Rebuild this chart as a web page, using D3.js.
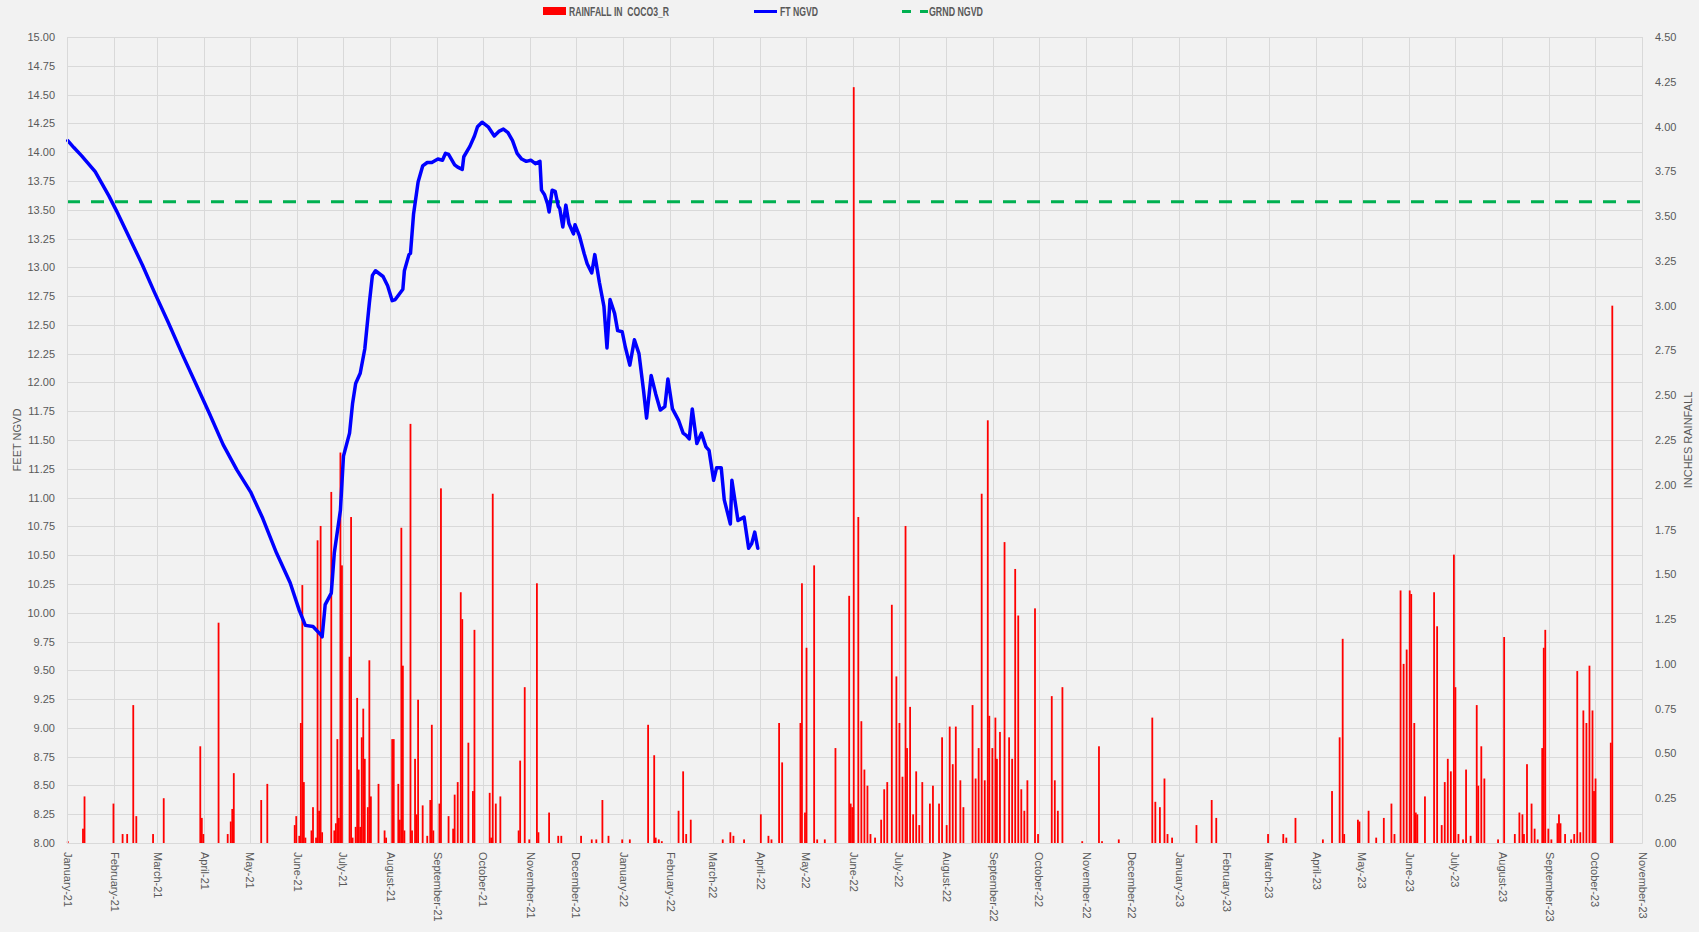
<!DOCTYPE html>
<html>
<head>
<meta charset="utf-8">
<script src="https://cdn.jsdelivr.net/npm/d3@7"></script>
<style>
body { margin: 0; background: #f2f2f2; }
svg text { font-family: "Liberation Sans", Arial, sans-serif; fill: #595959; }
</style>
</head>
<body>
<script>
var w = 1699;
var h = 932;
var plotLeft = 67, plotRight = 1642, plotTop = 37, plotBottom = 843;

// water level (ft NGVD)
var levelSeries = [
  ["2021-01-01",14.10],["2021-01-05",14.04],["2021-01-10",13.97],["2021-01-19",13.83],["2021-01-28",13.62],
  ["2021-02-02",13.49],["2021-02-10",13.27],["2021-02-19",13.02],["2021-02-27",12.78],["2021-03-08",12.52],
  ["2021-03-17",12.25],["2021-03-26",11.99],["2021-04-04",11.73],["2021-04-13",11.46],["2021-04-22",11.24],
  ["2021-05-01",11.05],["2021-05-09",10.82],["2021-05-18",10.52],["2021-05-27",10.26],["2021-06-02",10.02],
  ["2021-06-06",9.89],["2021-06-11",9.88],["2021-06-16",9.81],["2021-06-17",9.79],["2021-06-19",10.07],
  ["2021-06-23",10.17],["2021-06-25",10.52],["2021-06-29",10.89],["2021-07-01",11.36],["2021-07-05",11.56],
  ["2021-07-07",11.82],["2021-07-09",11.99],["2021-07-12",12.08],["2021-07-15",12.29],["2021-07-18",12.69],
  ["2021-07-20",12.93],["2021-07-22",12.97],["2021-07-27",12.92],["2021-07-30",12.84],["2021-08-02",12.71],
  ["2021-08-04",12.72],["2021-08-09",12.81],["2021-08-10",12.97],["2021-08-13",13.11],["2021-08-14",13.12],
  ["2021-08-16",13.46],["2021-08-19",13.74],["2021-08-22",13.88],["2021-08-25",13.91],["2021-08-28",13.91],
  ["2021-09-01",13.94],["2021-09-04",13.93],["2021-09-06",13.99],["2021-09-08",13.98],["2021-09-12",13.89],
  ["2021-09-14",13.87],["2021-09-17",13.85],["2021-09-18",13.96],["2021-09-22",14.05],["2021-09-25",14.14],
  ["2021-09-27",14.22],["2021-09-30",14.26],["2021-10-04",14.22],["2021-10-08",14.14],["2021-10-11",14.18],
  ["2021-10-14",14.20],["2021-10-17",14.17],["2021-10-20",14.10],["2021-10-23",13.99],["2021-10-26",13.94],
  ["2021-10-29",13.92],["2021-11-01",13.93],["2021-11-04",13.90],["2021-11-07",13.92],["2021-11-08",13.67],
  ["2021-11-10",13.63],["2021-11-12",13.55],["2021-11-13",13.48],["2021-11-15",13.67],["2021-11-17",13.66],
  ["2021-11-19",13.53],["2021-11-20",13.51],["2021-11-22",13.35],["2021-11-24",13.54],["2021-11-26",13.38],
  ["2021-11-29",13.29],["2021-11-30",13.37],["2021-12-03",13.27],["2021-12-06",13.12],["2021-12-08",13.03],
  ["2021-12-11",12.95],["2021-12-13",13.11],["2021-12-16",12.87],["2021-12-19",12.66],["2021-12-21",12.30],
  ["2021-12-23",12.72],["2021-12-26",12.60],["2021-12-28",12.45],["2021-12-31",12.44],["2022-01-02",12.31],
  ["2022-01-05",12.15],["2022-01-08",12.37],["2022-01-11",12.25],["2022-01-14",11.93],["2022-01-16",11.69],
  ["2022-01-19",12.06],["2022-01-22",11.90],["2022-01-25",11.76],["2022-01-28",11.79],["2022-01-30",12.03],
  ["2022-02-02",11.77],["2022-02-06",11.67],["2022-02-09",11.56],["2022-02-11",11.54],["2022-02-13",11.51],
  ["2022-02-15",11.77],["2022-02-18",11.47],["2022-02-21",11.56],["2022-02-24",11.44],["2022-02-26",11.41],
  ["2022-03-01",11.15],["2022-03-03",11.26],["2022-03-06",11.26],["2022-03-08",10.98],["2022-03-12",10.77],
  ["2022-03-13",11.15],["2022-03-17",10.80],["2022-03-21",10.83],["2022-03-24",10.56],["2022-03-26",10.60],
  ["2022-03-28",10.70],["2022-03-30",10.56]
];

// daily rainfall (inches), only the days with rain
var rainSeries = [
  ["2021-01-01",0.01],["2021-01-11",0.08],["2021-01-12",0.26],["2021-01-31",0.22],["2021-02-06",0.05],
  ["2021-02-09",0.05],["2021-02-13",0.77],["2021-02-15",0.15],["2021-02-26",0.05],["2021-03-05",0.25],
  ["2021-03-29",0.54],["2021-03-30",0.14],["2021-03-31",0.05],["2021-04-10",1.23],["2021-04-16",0.05],
  ["2021-04-18",0.12],["2021-04-19",0.19],["2021-04-20",0.39],["2021-05-08",0.24],["2021-05-12",0.33],
  ["2021-05-30",0.10],["2021-05-31",0.15],["2021-06-02",0.04],["2021-06-03",0.67],["2021-06-04",1.44],
  ["2021-06-05",0.34],["2021-06-06",0.03],["2021-06-10",0.07],["2021-06-11",0.20],["2021-06-13",0.03],
  ["2021-06-14",1.69],["2021-06-15",0.18],["2021-06-16",1.77],["2021-06-17",0.06],["2021-06-23",1.96],
  ["2021-06-25",0.07],["2021-06-26",0.11],["2021-06-27",0.58],["2021-06-28",0.14],["2021-06-29",2.18],
  ["2021-06-30",1.55],["2021-07-05",1.04],["2021-07-06",1.82],["2021-07-07",0.03],["2021-07-09",0.09],
  ["2021-07-10",0.81],["2021-07-11",0.41],["2021-07-12",0.09],["2021-07-13",0.59],["2021-07-14",0.75],
  ["2021-07-15",0.47],["2021-07-17",0.20],["2021-07-18",1.02],["2021-07-19",0.26],["2021-07-24",0.33],
  ["2021-07-28",0.07],["2021-07-29",0.03],["2021-08-02",0.58],["2021-08-03",0.58],["2021-08-06",0.33],
  ["2021-08-07",0.13],["2021-08-08",1.76],["2021-08-09",0.99],["2021-08-10",0.07],["2021-08-14",2.34],
  ["2021-08-15",0.07],["2021-08-17",0.47],["2021-08-18",0.16],["2021-08-19",0.80],["2021-08-22",0.21],
  ["2021-08-25",0.04],["2021-08-27",0.24],["2021-08-28",0.66],["2021-08-29",0.07],["2021-09-02",0.22],
  ["2021-09-03",1.98],["2021-09-08",0.15],["2021-09-11",0.08],["2021-09-12",0.27],["2021-09-14",0.34],
  ["2021-09-16",1.40],["2021-09-17",1.25],["2021-09-21",0.56],["2021-09-24",0.29],["2021-09-25",1.19],
  ["2021-10-05",0.28],["2021-10-06",0.03],["2021-10-07",1.95],["2021-10-09",0.22],["2021-10-12",0.26],
  ["2021-10-24",0.07],["2021-10-25",0.46],["2021-10-28",0.87],["2021-10-31",0.02],["2021-11-05",1.45],
  ["2021-11-06",0.06],["2021-11-13",0.17],["2021-11-19",0.04],["2021-11-21",0.04],["2021-12-04",0.04],
  ["2021-12-11",0.02],["2021-12-14",0.02],["2021-12-18",0.24],["2021-12-22",0.04],["2021-12-31",0.02],
  ["2022-01-05",0.02],["2022-01-17",0.66],["2022-01-21",0.49],["2022-01-22",0.03],["2022-01-24",0.02],
  ["2022-01-26",0.01],["2022-02-06",0.18],["2022-02-09",0.40],["2022-02-11",0.05],["2022-02-14",0.13],
  ["2022-03-07",0.02],["2022-03-12",0.06],["2022-03-14",0.04],["2022-03-21",0.02],["2022-04-01",0.16],
  ["2022-04-06",0.04],["2022-04-08",0.02],["2022-04-13",0.67],["2022-04-15",0.45],["2022-04-27",0.67],
  ["2022-04-28",1.45],["2022-04-30",0.17],["2022-05-01",1.09],["2022-05-06",1.55],["2022-05-08",0.02],
  ["2022-05-13",0.02],["2022-05-20",0.53],["2022-05-29",1.38],["2022-05-30",0.22],["2022-05-31",0.20],
  ["2022-06-01",4.22],["2022-06-04",1.82],["2022-06-06",0.68],["2022-06-08",0.41],["2022-06-10",0.32],
  ["2022-06-12",0.05],["2022-06-15",0.03],["2022-06-19",0.13],["2022-06-21",0.30],["2022-06-23",0.34],
  ["2022-06-26",1.33],["2022-06-29",0.93],["2022-07-01",0.67],["2022-07-03",0.37],["2022-07-05",1.77],
  ["2022-07-06",0.53],["2022-07-08",0.76],["2022-07-10",0.16],["2022-07-12",0.40],["2022-07-14",0.10],
  ["2022-07-16",0.34],["2022-07-21",0.22],["2022-07-23",0.32],["2022-07-27",0.22],["2022-07-29",0.59],
  ["2022-08-01",0.10],["2022-08-03",0.65],["2022-08-05",0.44],["2022-08-07",0.65],["2022-08-10",0.35],
  ["2022-08-12",0.20],["2022-08-18",0.77],["2022-08-20",0.36],["2022-08-22",0.53],["2022-08-24",1.95],
  ["2022-08-26",0.35],["2022-08-28",2.36],["2022-08-29",0.71],["2022-08-31",0.53],["2022-09-02",0.70],
  ["2022-09-03",0.47],["2022-09-05",0.62],["2022-09-08",1.68],["2022-09-11",0.59],["2022-09-13",0.47],
  ["2022-09-15",1.53],["2022-09-17",1.27],["2022-09-19",0.30],["2022-09-21",0.18],["2022-09-23",0.35],
  ["2022-09-28",1.31],["2022-09-30",0.05],["2022-10-09",0.82],["2022-10-11",0.35],["2022-10-13",0.18],
  ["2022-10-16",0.87],["2022-10-29",0.01],["2022-11-09",0.54],["2022-11-11",0.01],["2022-11-22",0.02],
  ["2022-12-14",0.70],["2022-12-16",0.23],["2022-12-19",0.20],["2022-12-22",0.36],["2022-12-24",0.05],
  ["2022-12-27",0.03],
  ["2023-01-12",0.10],["2023-01-22",0.24],["2023-01-25",0.14],["2023-02-28",0.05],["2023-03-10",0.05],
  ["2023-03-12",0.03],["2023-03-18",0.14],["2023-04-05",0.02],["2023-04-11",0.29],["2023-04-16",0.59],
  ["2023-04-18",1.14],["2023-04-19",0.05],["2023-04-28",0.13],["2023-04-29",0.12],["2023-05-05",0.18],
  ["2023-05-10",0.03],["2023-05-15",0.14],["2023-05-20",0.22],["2023-05-22",0.05],["2023-05-26",1.41],
  ["2023-05-28",1.00],["2023-05-30",1.08],["2023-06-01",1.41],["2023-06-02",1.39],["2023-06-04",0.67],
  ["2023-06-05",0.17],["2023-06-06",0.16],["2023-06-11",0.26],["2023-06-17",1.40],["2023-06-19",1.21],
  ["2023-06-22",0.10],["2023-06-24",0.34],["2023-06-26",0.47],["2023-06-28",0.40],["2023-06-30",1.61],
  ["2023-07-01",0.87],["2023-07-03",0.05],["2023-07-06",0.02],["2023-07-08",0.41],["2023-07-11",0.04],
  ["2023-07-15",0.77],["2023-07-16",0.32],["2023-07-18",0.54],["2023-07-20",0.36],["2023-07-29",0.02],
  ["2023-08-02",1.15],["2023-08-09",0.05],["2023-08-12",0.17],["2023-08-14",0.16],["2023-08-15",0.05],
  ["2023-08-17",0.44],["2023-08-20",0.22],["2023-08-22",0.08],["2023-08-24",0.02],["2023-08-27",0.53],
  ["2023-08-28",1.09],["2023-08-29",1.19],["2023-08-31",0.08],["2023-09-02",0.02],["2023-09-06",0.11],
  ["2023-09-07",0.16],["2023-09-08",0.11],["2023-09-11",0.05],["2023-09-15",0.02],["2023-09-17",0.05],
  ["2023-09-19",0.96],["2023-09-21",0.06],["2023-09-23",0.74],["2023-09-25",0.67],["2023-09-27",0.99],
  ["2023-09-29",0.74],["2023-09-30",0.29],["2023-10-01",0.36],["2023-10-11",0.56],["2023-10-12",3.00]
];

var groundNgvd = 13.57;
var ftTicks = d3.range(8, 15.001, 0.25);
var inchTicks = d3.range(0, 4.501, 0.25);
var legendNames = ["RAINFALL IN  COCO3_R", "FT NGVD", "GRND NGVD"];

var parse = d3.timeParse("%Y-%m-%d");
var start = parse("2021-01-01"), end = parse("2023-11-01");
var months = d3.timeMonth.range(start, d3.timeDay.offset(end, 1));

var x = d3.scaleTime().domain([start, end]).range([plotLeft, plotRight]);
var yFt = d3.scaleLinear().domain([8, 15]).range([plotBottom, plotTop]);
var yIn = d3.scaleLinear().domain([0, 4.5]).range([plotBottom, plotTop]);
var dayW = x(parse("2021-01-02")) - x(start);

var svg = d3.select("body")
    .append("svg")
    .attr("width", w)
    .attr("height", h);

// gridlines
svg.append("g").selectAll("line")
    .data(ftTicks)
    .enter()
    .append("line")
    .attr("x1", plotLeft).attr("x2", plotRight)
    .attr("y1", function (d) { return Math.round(yFt(d)) + 0.5; })
    .attr("y2", function (d) { return Math.round(yFt(d)) + 0.5; })
    .attr("stroke", "#d9d9d9").attr("stroke-width", 1);

svg.append("g").selectAll("line")
    .data(months)
    .enter()
    .append("line")
    .attr("x1", function (d) { return Math.round(x(d)) + 0.5; })
    .attr("x2", function (d) { return Math.round(x(d)) + 0.5; })
    .attr("y1", plotTop).attr("y2", plotBottom)
    .attr("stroke", "#d9d9d9").attr("stroke-width", 1);

// rainfall bars
svg.append("g").selectAll("rect")
    .data(rainSeries)
    .enter()
    .append("rect")
    .attr("x", function (d) { return x(parse(d[0])) + dayW / 2 - 0.9; })
    .attr("y", function (d) { return yIn(d[1]); })
    .attr("width", 1.8)
    .attr("height", function (d) { return plotBottom - yIn(d[1]); })
    .attr("fill", "#ff0000");

// ground level
svg.append("line")
    .attr("x1", plotLeft).attr("x2", plotRight)
    .attr("y1", yFt(groundNgvd)).attr("y2", yFt(groundNgvd))
    .attr("stroke", "#00b050")
    .attr("stroke-width", 3)
    .attr("stroke-dasharray", "13,11");

// water level
var line = d3.line()
    .x(function (d) { return x(parse(d[0])) + dayW / 2; })
    .y(function (d) { return yFt(d[1]); });

svg.append("path")
    .datum(levelSeries)
    .attr("d", line)
    .attr("fill", "none")
    .attr("stroke", "#0000ff")
    .attr("stroke-width", 3.5)
    .attr("stroke-linejoin", "round")
    .attr("stroke-linecap", "round");

// axes
var leftAxis = svg.append("g")
    .attr("transform", "translate(" + plotLeft + ",0)")
    .call(d3.axisLeft(yFt).tickValues(ftTicks).tickFormat(d3.format(".2f")).tickSize(0).tickPadding(12));
var rightAxis = svg.append("g")
    .attr("transform", "translate(" + plotRight + ",0)")
    .call(d3.axisRight(yIn).tickValues(inchTicks).tickFormat(d3.format(".2f")).tickSize(0).tickPadding(13));
var bottomAxis = svg.append("g")
    .attr("transform", "translate(0," + plotBottom + ")")
    .call(d3.axisBottom(x).tickValues(months).tickFormat(d3.timeFormat("%B-%y")).tickSize(0));

[leftAxis, rightAxis, bottomAxis].forEach(function (g) {
    g.select(".domain").attr("stroke", "#d9d9d9");
    g.selectAll("text")
        .attr("font-family", "Liberation Sans, Arial, sans-serif")
        .attr("font-size", 11)
        .attr("fill", "#595959");
});

bottomAxis.selectAll("text")
    .attr("transform", "rotate(90)")
    .attr("text-anchor", "start")
    .attr("x", 9)
    .attr("y", 0)
    .attr("dy", "0.35em");

// axis titles
svg.append("text")
    .text("FEET NGVD")
    .attr("transform", "translate(21," + (plotTop + plotBottom) / 2 + ") rotate(-90)")
    .attr("text-anchor", "middle")
    .attr("font-size", 11);

svg.append("text")
    .text("INCHES RAINFALL")
    .attr("transform", "translate(1692," + (plotTop + plotBottom) / 2 + ") rotate(-90)")
    .attr("text-anchor", "middle")
    .attr("font-size", 11);

// legend
var legend = svg.append("g");
legend.append("rect")
    .attr("x", 543).attr("y", 7).attr("width", 23).attr("height", 8)
    .attr("fill", "#ff0000");
legend.append("line")
    .attr("x1", 754).attr("x2", 777).attr("y1", 11.5).attr("y2", 11.5)
    .attr("stroke", "#0000ff").attr("stroke-width", 3);
legend.append("line")
    .attr("x1", 902).attr("x2", 928).attr("y1", 11.5).attr("y2", 11.5)
    .attr("stroke", "#00b050").attr("stroke-width", 3)
    .attr("stroke-dasharray", "9,9");

legend.selectAll("text")
    .data(legendNames)
    .enter()
    .append("text")
    .text(function (d) { return d; })
    .attr("x", function (d, i) { return [569, 780, 929][i]; })
    .attr("y", 11.5)
    .attr("dy", "0.36em")
    .attr("textLength", function (d, i) { return [100, 38, 54][i]; })
    .attr("lengthAdjust", "spacingAndGlyphs")
    .attr("font-weight", "bold")
    .attr("font-size", 12)
    .style("white-space", "pre");
</script>
</body>
</html>
